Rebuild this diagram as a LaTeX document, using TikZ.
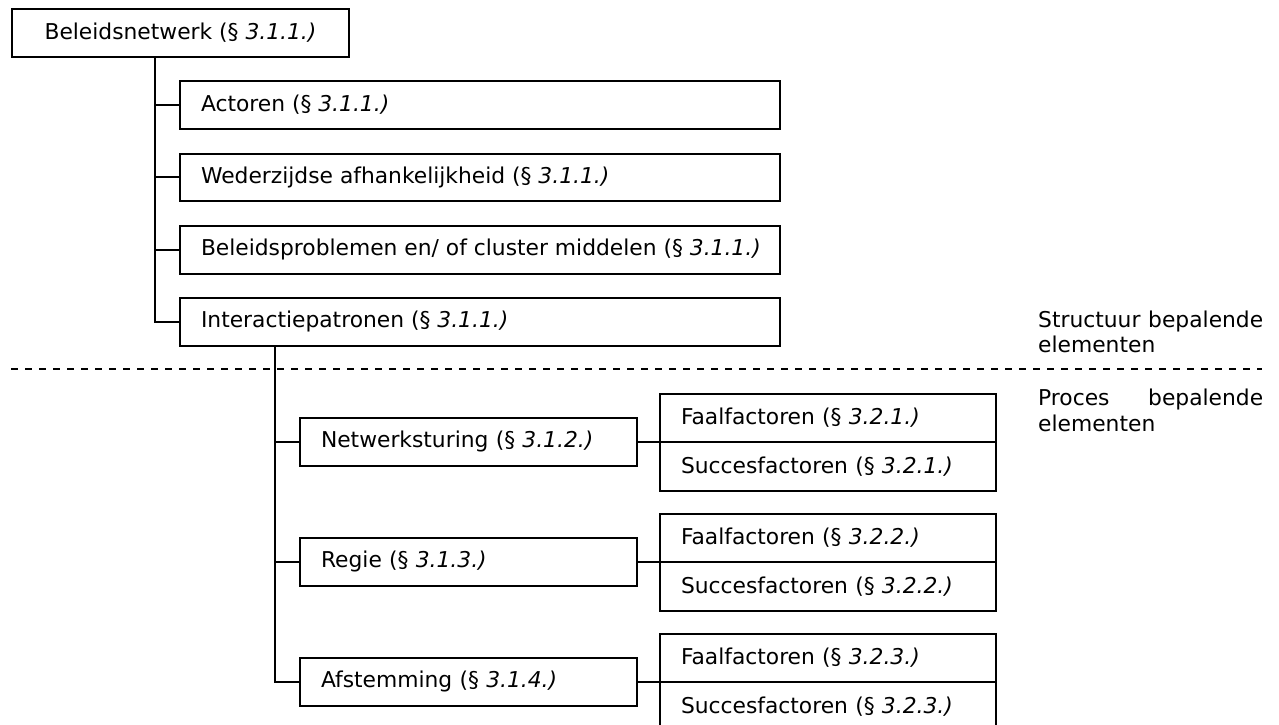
\documentclass[tikz,border=0pt]{standalone}
\usepackage{fontspec}
\setmainfont{DejaVu Sans}
\newcommand\diagfont{\fontsize{21.8}{25.5}\selectfont}
\newcommand\wtext[1]{\makebox[558pt][l]{#1}}
\tikzset{
  box/.style={draw, line width=2pt, rectangle, anchor=north west,
    inner ysep=0pt, inner xsep=21pt, align=left, font=\diagfont},
  wide/.style={box, minimum width=600pt, minimum height=47.5pt},
  mid/.style={box, minimum width=337pt, text width=295pt, minimum height=47.5pt},
  pair/.style={box, minimum width=336pt, text width=294pt, minimum height=48.5pt},
  conn/.style={line width=2pt},
  sep/.style={line width=2pt, dash pattern=on 7pt off 7pt},
  lbl/.style={anchor=north west, inner sep=0pt, align=left, font=\diagfont}
}
\begin{document}
\begin{tikzpicture}[x=1pt,y=-1pt]
\useasboundingbox (0,0) rectangle (1279,724);
\clip (0,0) rectangle (1279,724);
% top
\node[box, minimum width=337pt, minimum height=48pt, align=center] (top) at (11,8) {Beleidsnetwerk (§ \textit{3.1.1.)}};
% level 1
\node[wide] (a1) at (179,80) {\wtext{Actoren (§ \textit{3.1.1.)}}};
\node[wide] (a2) at (179,152.5) {\wtext{Wederzijdse afhankelijkheid (§ \textit{3.1.1.)}}};
\node[wide] (a3) at (179,225) {\wtext{Beleidsproblemen en/ of cluster middelen (§ \textit{3.1.1.)}}};
\node[wide] (a4) at (179,297) {\wtext{Interactiepatronen (§ \textit{3.1.1.)}}};
% level 2
\node[mid] (n1) at (299,417) {Netwerksturing (§ \textit{3.1.2.)}};
\node[mid] (n2) at (299,537) {Regie (§ \textit{3.1.3.)}};
\node[mid] (n3) at (299,657) {Afstemming (§ \textit{3.1.4.)}};
% level 3
\node[pair] (f1) at (659,392.5) {Faalfactoren (§ \textit{3.2.1.)}};
\node[pair] (s1) at (659,441) {Succesfactoren (§ \textit{3.2.1.)}};
\node[pair] (f2) at (659,512.5) {Faalfactoren (§ \textit{3.2.2.)}};
\node[pair] (s2) at (659,561) {Succesfactoren (§ \textit{3.2.2.)}};
\node[pair] (f3) at (659,632.5) {Faalfactoren (§ \textit{3.2.3.)}};
\node[pair] (s3) at (659,681) {Succesfactoren (§ \textit{3.2.3.)}};
% trunks
\coordinate (vx) at (155,0);
\coordinate (vy) at (275,0);
\draw[conn] (top.south -| vx) |- (a4.west);
\foreach \n in {a1,a2,a3} \draw[conn] (vx |- \n.west) -- (\n.west);
\draw[conn] (a4.south -| vy) |- (n3.west);
\foreach \n in {n1,n2} \draw[conn] (vy |- \n.west) -- (\n.west);
\draw[conn] (n1.east) -- (n1.east -| f1.west);
\draw[conn] (n2.east) -- (n2.east -| f2.west);
\draw[conn] (n3.east) -- (n3.east -| f3.west);
% separator
\coordinate (d1) at (11,368.5);
\coordinate (d2) at (1262,368.5);
\draw[sep] (d1) -- (d2);
% labels
\node[lbl] (l1) at (1038,310.5) {\hbox to 225pt{Structuur\hfill bepalende}\\elementen};
\node[lbl] (l2) at (1038,389) {\hbox to 225pt{Proces\hfill bepalende}\\elementen};
\end{tikzpicture}
\end{document}
